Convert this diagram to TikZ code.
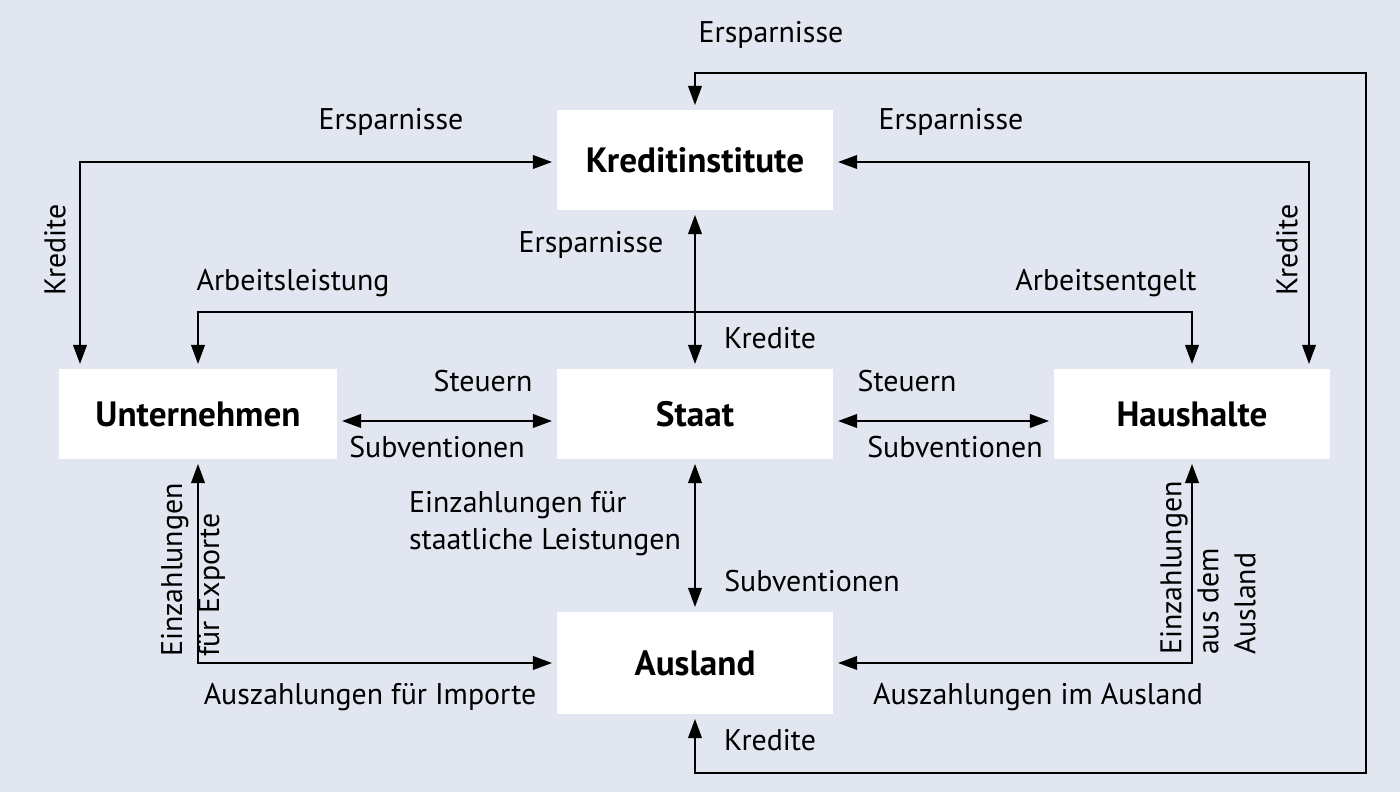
\documentclass[tikz,border=0pt]{standalone}
\usepackage{fontspec}
\setmainfont{PT Sans}
\usepackage{tikz}
\usetikzlibrary{arrows.meta}
\definecolor{bgblue}{RGB}{226,230,240}
\tikzset{box/.style = {fill=white,minimum width=2.75cm,minimum height=0.89cm,inner sep=0pt,outer sep=1.5pt,font=\fontsize{10}{12}\selectfont\bfseries}}
\tikzset{lbl/.style = {inner sep=0pt,font=\fontsize{8.5}{10.5}\selectfont}}
\tikzset{flow/.style = {line width=0.8pt,{Triangle[length=5.5pt,width=3.8pt]}-{Triangle[length=5.5pt,width=3.8pt]}}}

\begin{document}
\begin{tikzpicture}[x=0.01cm,y=-0.01cm]
                \fill[bgblue] (0,0) rectangle (1400,792);
                \useasboundingbox (0,0) rectangle (1400,792);
                % sectors
                \node[box,minimum height=0.99cm] (kredit) at (695,160) {Kreditinstitute};
                \node[box,minimum width=2.77cm] (unt) at (198,414) {Unternehmen};
                \node[box] (staat) at (695,414) {Staat};
                \node[box] (haus) at (1192,414) {Haushalte};
                \node[box,minimum height=1.01cm] (ausland) at (695,663) {Ausland};
                % corners
                \coordinate (tr) at (1366,73);
                \coordinate (br) at (1366,773);
                \coordinate (kl) at (80,162);
                \coordinate (kr) at (1309,162);
                \coordinate (arb) at (0,312);
                \coordinate (mid) at (0,421);
                % flows
                \draw[flow] (kredit.north) |- (tr) -- (br) -| (ausland.south);
                \draw[flow] (kredit.west |- kl) -- (kl) -- (kl |- unt.north);
                \draw[flow] (kredit.east |- kr) -- (kr) -- (kr |- haus.north);
                \draw[flow] (unt.north) -- (unt.north |- arb) -| (haus.north);
                \draw[flow] (kredit.south) -- (staat.north);
                \draw[flow] (staat.south) -- (ausland.north);
                \draw[flow] (unt.east |- mid) -- (staat.west |- mid);
                \draw[flow] (staat.east |- mid) -- (haus.west |- mid);
                \draw[flow] (unt.south) |- (ausland.west);
                \draw[flow] (haus.south) |- (ausland.east);
                % labels
                \node[lbl] (ersp-top) at (771,35) {Ersparnisse};
                \node[lbl] (ersp-l) at (391,122) {Ersparnisse};
                \node[lbl] (ersp-r) at (951,122) {Ersparnisse};
                \node[lbl,rotate=90] (kred-l) at (55,250) {Kredite};
                \node[lbl,rotate=90] (kred-r) at (1287,250) {Kredite};
                \node[lbl] (ersp-m) at (591,245) {Ersparnisse};
                \node[lbl] (arb-l) at (293,283) {Arbeitsleistung};
                \node[lbl] (arb-r) at (1106,283) {Arbeitsentgelt};
                \node[lbl] (kred-m) at (770,338) {Kredite};
                \node[lbl] (st-l) at (483,381) {Steuern};
                \node[lbl] (sub-l) at (437,447) {Subventionen};
                \node[lbl] (st-r) at (907,381) {Steuern};
                \node[lbl] (sub-r) at (955,447) {Subventionen};
                \node[lbl,align=left] (einz-st) at (545,524) {Einzahlungen für\\staatliche Leistungen};
                \node[lbl] (sub-m) at (812,581) {Subventionen};
                \node[lbl,rotate=90,align=left] (einz-ex) at (193,570) {Einzahlungen\\für Exporte};
                \node[lbl] (ausz-im) at (370,697) {Auszahlungen für Importe};
                \node[lbl,rotate=90,align=left] (einz-aus) at (1208,568) {Einzahlungen\\aus dem\\Ausland};
                \node[lbl] (ausz-aus) at (1038,697) {Auszahlungen im Ausland};
                \node[lbl] (kred-b) at (770,740) {Kredite};
            \end{tikzpicture}
\end{document}
